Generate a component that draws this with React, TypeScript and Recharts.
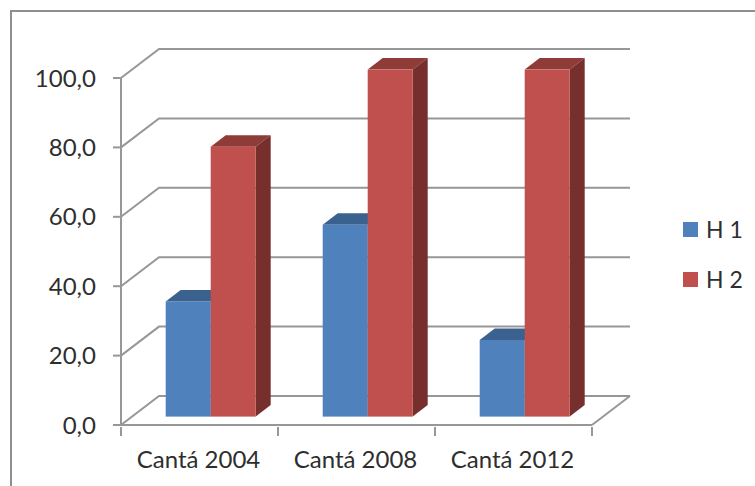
import React from 'react';
import { BarChart, Bar, XAxis, YAxis, CartesianGrid, Legend } from 'recharts';

const categories = ['Cantá 2004', 'Cantá 2008', 'Cantá 2012'];
const h1Values = [33.2, 55.3, 22.1];
const h2Values = [77.8, 100, 100];
const yTicks = [0, 20, 40, 60, 80, 100];

const tableData = categories.map((name, i) => ({ name, h1: h1Values[i], h2: h2Values[i] }));

const LINE = '#979797';
const TEXT = '#2e2e2e';
const FONT = 'Lato, "Open Sans", sans-serif';
const AXIS_FONT_SIZE = 24;

// Depth of the chart walls, and of the bars and their inset from the front plane
const WALL_DX = 38;
const WALL_DY = 29;
const BAR_DX = 15;
const BAR_DY = 11.5;
const INSET_X = 10.7;
const INSET_Y = 8.4;
const BAND_WIDTH = 157;

const seriesShades: Record<string, { top: string; side: string }> = {
  '#4F81BD': { top: '#3B618F', side: '#2F4E73' },
  '#C0504D': { top: '#8F3B38', side: '#772F2D' },
};

const Bar3D = (props: any) => {
  const { x, y, width, height, fill } = props;
  const shade = seriesShades[fill];
  const left = x + INSET_X;
  const right = left + width;
  const top = y - INSET_Y;
  const bottom = top + height;
  return (
    <g>
      <polygon
        points={`${left},${top} ${left + BAR_DX},${top - BAR_DY} ${right + BAR_DX},${top - BAR_DY} ${right},${top}`}
        fill={shade.top}
      />
      <polygon
        points={`${right},${top} ${right + BAR_DX},${top - BAR_DY} ${right + BAR_DX},${bottom - BAR_DY} ${right},${bottom}`}
        fill={shade.side}
      />
      <rect x={left} y={top} width={width} height={height} fill={fill} />
    </g>
  );
};

// Each gridline climbs the side wall, then runs along the back wall
const WallLine = (props: any) => {
  const { x1, x2, y1, offset } = props;
  const isFloor = offset && Math.abs(y1 - (offset.top + offset.height)) < 1;
  return (
    <g>
      <polyline
        points={`${x1},${y1} ${x1 + WALL_DX},${y1 - WALL_DY} ${x2 + WALL_DX},${y1 - WALL_DY}`}
        fill="none"
        stroke={LINE}
        strokeWidth={2}
      />
      {isFloor && (
        <line x1={x2} y1={y1} x2={x2 + WALL_DX} y2={y1 - WALL_DY} stroke={LINE} strokeWidth={2} />
      )}
    </g>
  );
};

// Tick marks sit on the category boundaries, labels on the band centres
const CategoryTick = (props: any) => {
  const { x, y, payload, index } = props;
  const half = BAND_WIDTH / 2;
  const isLast = index === categories.length - 1;
  return (
    <g>
      <line x1={x - half} y1={y} x2={x - half} y2={y + 9} stroke={LINE} strokeWidth={2} />
      {isLast && <line x1={x + half} y1={y} x2={x + half} y2={y + 9} stroke={LINE} strokeWidth={2} />}
      <text
        x={x - 1}
        y={y + 41}
        textAnchor="middle"
        fill={TEXT}
        fontSize={AXIS_FONT_SIZE}
        fontFamily={FONT}
      >
        {payload.value}
      </text>
    </g>
  );
};

const LegendList = (props: any) => (
  <div>
    {props.payload.map((item: any) => (
      <div key={item.value} style={{ display: 'flex', alignItems: 'center', height: 50 }}>
        <span style={{ width: 15, height: 15, background: item.color, marginRight: 8 }} />
        <span style={{ fontFamily: FONT, fontSize: 23, color: TEXT }}>{item.value}</span>
      </div>
    ))}
  </div>
);

export default function App() {
  return (
    <div style={{ position: 'absolute', left: 0, top: 0, width: 755, height: 486, background: '#fff' }}>
      <div
        style={{
          position: 'absolute',
          left: 10,
          top: 10,
          right: 0,
          bottom: 0,
          borderLeft: '2px solid #8f8f8f',
          borderTop: '2px solid #8f8f8f',
        }}
      />
      <BarChart
        width={755}
        height={486}
        data={tableData}
        barSize={45}
        barGap={0}
        margin={{ top: 78, right: 163, bottom: 0, left: 21 }}
        style={{ position: 'absolute', left: 0, top: 0 }}
      >
        <CartesianGrid vertical={false} horizontal={(p: any) => <WallLine {...p} key={p.key} />} />
        <XAxis
          dataKey="name"
          height={61}
          interval={0}
          tickSize={0}
          tickLine={false}
          axisLine={{ stroke: LINE, strokeWidth: 2 }}
          tick={<CategoryTick />}
        />
        <YAxis
          width={100}
          domain={[0, 100]}
          ticks={yTicks}
          tickFormatter={(v: number) => v.toFixed(1).replace('.', ',')}
          tickSize={8}
          tickMargin={17}
          axisLine={{ stroke: LINE, strokeWidth: 2 }}
          tickLine={{ stroke: LINE, strokeWidth: 2 }}
          tick={{ fill: TEXT, fontSize: AXIS_FONT_SIZE, fontFamily: FONT }}
        />
        <Legend
          layout="vertical"
          align="center"
          verticalAlign="middle"
          content={<LegendList />}
          wrapperStyle={{ left: 683, top: 204, width: 70 }}
        />
        <Bar dataKey="h1" name="H 1" fill="#4F81BD" shape={<Bar3D />} isAnimationActive={false} />
        <Bar dataKey="h2" name="H 2" fill="#C0504D" shape={<Bar3D />} isAnimationActive={false} />
      </BarChart>
    </div>
  );
}
